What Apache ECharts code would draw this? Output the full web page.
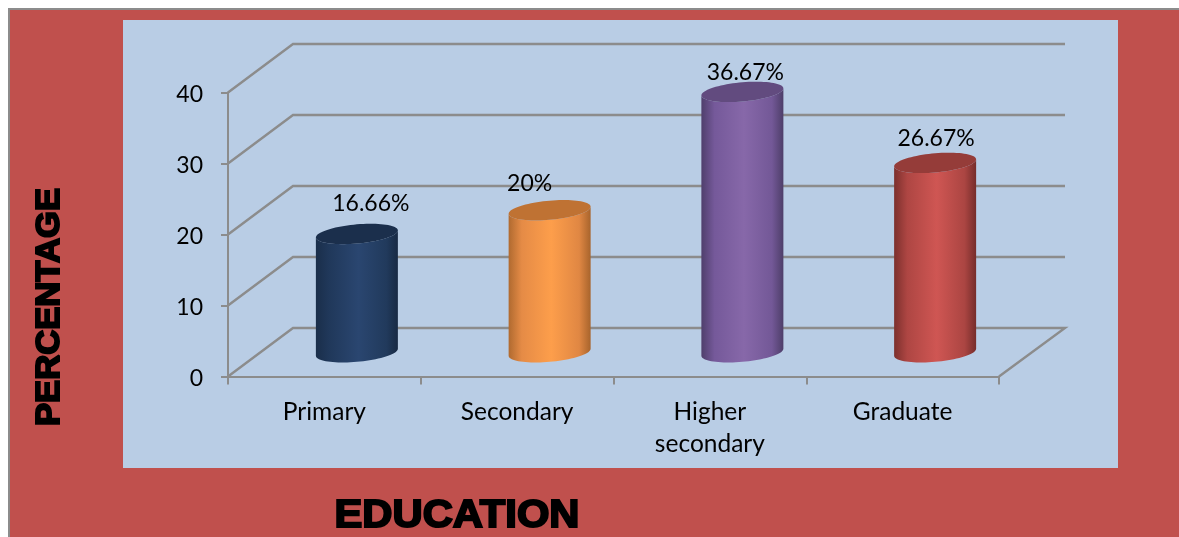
<!DOCTYPE html>
<html>
<head>
<meta charset="utf-8">
<style>html,body{margin:0;padding:0;background:#fff}#chart{width:1179px;height:537px}</style>
<script src="https://cdn.jsdelivr.net/npm/echarts@6/dist/echarts.min.js"></script>
</head>
<body>
<div id="chart"></div>
<script>
// Education level of respondents, percentage per level
const categories = ['Primary', 'Secondary', 'Higher\nsecondary', 'Graduate'];
const percentages = [16.66, 20, 36.67, 26.67];
const valueTicks = [0, 10, 20, 30, 40];
const yAxisTitle = 'PERCENTAGE';
const xAxisTitle = 'EDUCATION';

// Cylinder colours: [edge left, mid left, centre, mid right, edge right, top cap]
const palettes = [
  ['#1a2e4a', '#20385a', '#2a4670', '#213a5c', '#182a44', '#1b2f4c'],
  ['#b06a30', '#e58b46', '#fd9e4b', '#e08743', '#a8642c', '#bf7233'],
  ['#4f3f6c', '#75599a', '#8768a9', '#735897', '#4e3e69', '#624b7f'],
  ['#7c302d', '#ae4643', '#cf5653', '#ab4542', '#762d2b', '#953c39']
];
// Per-label shift from the cylinder's top centre
const labelShifts = [[14, -30], [-20, -27], [3, -19], [1, -24]];

// Oblique projection used for the floor and back wall
const DEPTH_X = 65, DEPTH_Y = -48.5;
const RADIUS_X = 41, RADIUS_Y = 9.6, TILT = -0.085;
const AXIS_GREY = '#8c8c8c';

function ellipsePoint(cx, cy, t) {
  const dx = RADIUS_X * Math.cos(t);
  return [cx + dx, cy + RADIUS_Y * Math.sin(t) + TILT * dx];
}

function renderWall(params, api) {
  const v = api.value(0);
  const band = api.size([1, 0])[0];
  const front = api.coord([0, v]);
  const x0 = front[0] - band / 2;
  const backEnd = api.coord([categories.length - 1, v])[0] + band / 2 + DEPTH_X + 1;
  const pts = [[x0, front[1]], [x0 + DEPTH_X, front[1] + DEPTH_Y], [backEnd, front[1] + DEPTH_Y]];
  if (v === 0) pts.push([backEnd - DEPTH_X - 1, front[1]]);
  return { type: 'polyline', shape: { points: pts }, silent: true,
    style: { stroke: AXIS_GREY, lineWidth: 2.4, fill: null } };
}

function renderCylinder(params, api) {
  const i = params.dataIndex;
  const base = api.coord([i, 0]);
  const top = api.coord([i, api.value(1)]);
  const cx = base[0] + DEPTH_X / 2;
  const by = base[1] + DEPTH_Y / 2;
  const ty = top[1] + DEPTH_Y / 2;
  const c = palettes[i];

  const body = [];
  for (let k = 0; k <= 40; k++) body.push(ellipsePoint(cx, by, Math.PI - Math.PI * k / 40));
  for (let k = 0; k <= 40; k++) body.push(ellipsePoint(cx, ty, Math.PI * k / 40));
  const cap = [];
  for (let k = 0; k < 80; k++) cap.push(ellipsePoint(cx, ty, 2 * Math.PI * k / 80));

  return {
    type: 'group',
    children: [
      { type: 'polygon', shape: { points: body }, style: { fill: {
          type: 'linear', x: 0, y: 0, x2: 1, y2: 0, colorStops: [
            { offset: 0, color: c[0] }, { offset: 0.16, color: c[1] },
            { offset: 0.52, color: c[2] }, { offset: 0.86, color: c[3] },
            { offset: 1, color: c[4] }] } } },
      { type: 'polygon', shape: { points: cap }, style: { fill: c[5] } },
      { type: 'text', x: cx + labelShifts[i][0], y: ty + labelShifts[i][1], style: {
          text: api.value(1) + '%', fontFamily: 'Lato', fontSize: 23, fill: '#000',
          align: 'center', verticalAlign: 'middle' } }
    ]
  };
}

const chart = echarts.init(document.getElementById('chart'), null, { renderer: 'canvas' });
chart.setOption({
  animation: false,
  graphic: [
    { type: 'rect', z: -11, shape: { x: 8, y: 8, width: 1171, height: 529 },
      style: { fill: '#8c8c8c' } },
    { type: 'rect', z: -10, shape: { x: 10, y: 10, width: 1169, height: 527 },
      style: { fill: '#c0504d' } },
    { type: 'rect', z: -9, shape: { x: 123, y: 20, width: 995, height: 448 },
      style: { fill: '#b9cde5' } },
    { type: 'text', z: 10, x: 50, y: 307, rotation: Math.PI / 2, scaleX: 1.05,
      style: { text: yAxisTitle, fontFamily: 'Liberation Sans', fontWeight: 'bold', fontSize: 33,
        fill: '#000', stroke: '#000', lineWidth: 2, align: 'center', verticalAlign: 'middle' } },
    { type: 'text', z: 10, x: 457, y: 516, scaleX: 1.07,
      style: { text: xAxisTitle, fontFamily: 'Liberation Sans', fontWeight: 'bold', fontSize: 39,
        fill: '#000', stroke: '#000', lineWidth: 2, align: 'center', verticalAlign: 'middle' } }
  ],
  grid: { left: 228, top: 92.5, width: 771, height: 284, containLabel: false },
  xAxis: {
    type: 'category', data: categories,
    axisLine: { lineStyle: { color: AXIS_GREY, width: 2 } },
    axisTick: { show: true, length: 8, lineStyle: { color: AXIS_GREY, width: 2 } },
    axisLabel: { color: '#000', fontFamily: 'Lato', fontSize: 24.5, lineHeight: 32, margin: 20, interval: 0 },
    splitLine: { show: false }
  },
  yAxis: {
    type: 'value', min: 0, max: 40, interval: 10,
    axisLine: { show: true, lineStyle: { color: AXIS_GREY, width: 2 } },
    axisTick: { show: true, length: 7, lineStyle: { color: AXIS_GREY, width: 2 } },
    axisLabel: { margin: 25, formatter: '{t|{value}}',
      rich: { t: { color: '#000', fontFamily: 'Lato', fontSize: 23, padding: [4, 0, 0, 0] } } },
    splitLine: { show: false }
  },
  series: [
    { type: 'custom', name: 'walls', data: valueTicks.map(v => [v]), renderItem: renderWall,
      encode: { y: 0 }, clip: false, z: 1, silent: true },
    { type: 'custom', name: 'Education', data: percentages.map((v, i) => [i, v]),
      renderItem: renderCylinder, encode: { x: 0, y: 1 }, clip: false, z: 2, silent: true }
  ]
});
</script>
</body>
</html>
